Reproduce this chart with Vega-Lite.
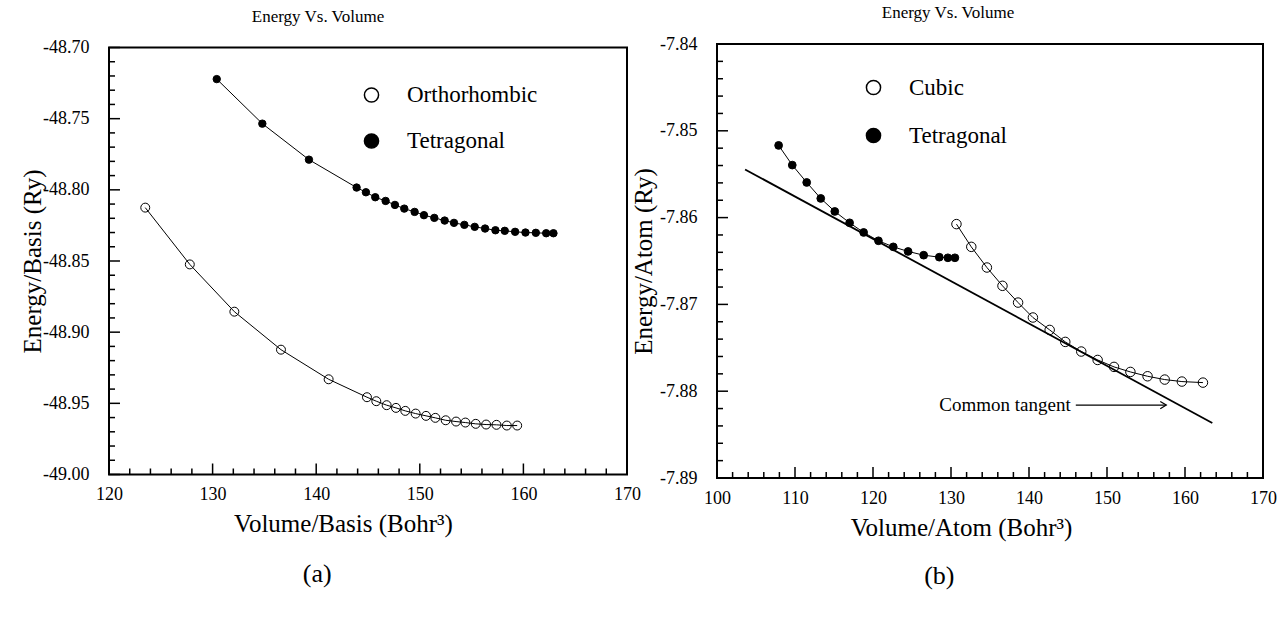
{
  "$schema": "https://vega.github.io/schema/vega-lite/v6.json",
  "background": "white",
  "padding": {"left": 19, "top": 3, "right": 10, "bottom": 10},
  "config": {
    "font": "Liberation Serif",
    "view": {"stroke": "black", "strokeWidth": 2},
    "axis": {"grid": false, "domain": false, "ticks": false, "tickSize": 0, "labelColor": "black", "titleColor": "black", "labelFont": "Liberation Serif", "titleFont": "Liberation Serif", "labelFontSize": 18, "titleFontSize": 25, "titleFontWeight": "normal", "labelOverlap": false, "labelFlush": false},
    "legend": {"labelFont": "Liberation Serif", "labelColor": "black"},
    "title": {"font": "Liberation Serif", "fontWeight": "normal", "color": "black"},
    "text": {"font": "Liberation Serif"}
  },
  "datasets": {
    "left": [
      {"V": 123.5, "E": -48.8125, "phase": "Orthorhombic"},
      {"V": 127.8, "E": -48.8524, "phase": "Orthorhombic"},
      {"V": 132.1, "E": -48.8856, "phase": "Orthorhombic"},
      {"V": 136.6, "E": -48.9123, "phase": "Orthorhombic"},
      {"V": 141.2, "E": -48.9331, "phase": "Orthorhombic"},
      {"V": 144.9, "E": -48.9457, "phase": "Orthorhombic"},
      {"V": 145.8, "E": -48.9485, "phase": "Orthorhombic"},
      {"V": 146.8, "E": -48.9513, "phase": "Orthorhombic"},
      {"V": 147.7, "E": -48.9532, "phase": "Orthorhombic"},
      {"V": 148.6, "E": -48.9553, "phase": "Orthorhombic"},
      {"V": 149.6, "E": -48.9572, "phase": "Orthorhombic"},
      {"V": 150.6, "E": -48.9588, "phase": "Orthorhombic"},
      {"V": 151.5, "E": -48.9602, "phase": "Orthorhombic"},
      {"V": 152.5, "E": -48.9619, "phase": "Orthorhombic"},
      {"V": 153.5, "E": -48.9628, "phase": "Orthorhombic"},
      {"V": 154.4, "E": -48.9635, "phase": "Orthorhombic"},
      {"V": 155.4, "E": -48.9644, "phase": "Orthorhombic"},
      {"V": 156.4, "E": -48.9649, "phase": "Orthorhombic"},
      {"V": 157.4, "E": -48.9651, "phase": "Orthorhombic"},
      {"V": 158.4, "E": -48.9656, "phase": "Orthorhombic"},
      {"V": 159.4, "E": -48.9656, "phase": "Orthorhombic"},
      {"V": 130.4, "E": -48.7222, "phase": "Tetragonal"},
      {"V": 134.8, "E": -48.7535, "phase": "Tetragonal"},
      {"V": 139.3, "E": -48.7788, "phase": "Tetragonal"},
      {"V": 143.9, "E": -48.7984, "phase": "Tetragonal"},
      {"V": 144.8, "E": -48.8017, "phase": "Tetragonal"},
      {"V": 145.7, "E": -48.8052, "phase": "Tetragonal"},
      {"V": 146.7, "E": -48.8078, "phase": "Tetragonal"},
      {"V": 147.6, "E": -48.8106, "phase": "Tetragonal"},
      {"V": 148.5, "E": -48.8132, "phase": "Tetragonal"},
      {"V": 149.5, "E": -48.8155, "phase": "Tetragonal"},
      {"V": 150.4, "E": -48.8178, "phase": "Tetragonal"},
      {"V": 151.4, "E": -48.8197, "phase": "Tetragonal"},
      {"V": 152.4, "E": -48.8216, "phase": "Tetragonal"},
      {"V": 153.3, "E": -48.8232, "phase": "Tetragonal"},
      {"V": 154.3, "E": -48.8246, "phase": "Tetragonal"},
      {"V": 155.3, "E": -48.826, "phase": "Tetragonal"},
      {"V": 156.3, "E": -48.8272, "phase": "Tetragonal"},
      {"V": 157.3, "E": -48.8284, "phase": "Tetragonal"},
      {"V": 158.2, "E": -48.8288, "phase": "Tetragonal"},
      {"V": 159.2, "E": -48.8295, "phase": "Tetragonal"},
      {"V": 160.2, "E": -48.83, "phase": "Tetragonal"},
      {"V": 161.2, "E": -48.8302, "phase": "Tetragonal"},
      {"V": 162.2, "E": -48.8305, "phase": "Tetragonal"},
      {"V": 162.9, "E": -48.8305, "phase": "Tetragonal"}
    ],
    "right": [
      {"V": 107.9, "E": -7.85168, "phase": "Tetragonal"},
      {"V": 109.65, "E": -7.85395, "phase": "Tetragonal"},
      {"V": 111.5, "E": -7.85595, "phase": "Tetragonal"},
      {"V": 113.3, "E": -7.85779, "phase": "Tetragonal"},
      {"V": 115.1, "E": -7.85929, "phase": "Tetragonal"},
      {"V": 117.0, "E": -7.8606, "phase": "Tetragonal"},
      {"V": 118.8, "E": -7.86171, "phase": "Tetragonal"},
      {"V": 120.7, "E": -7.86267, "phase": "Tetragonal"},
      {"V": 122.6, "E": -7.86337, "phase": "Tetragonal"},
      {"V": 124.5, "E": -7.8639, "phase": "Tetragonal"},
      {"V": 126.5, "E": -7.86433, "phase": "Tetragonal"},
      {"V": 128.5, "E": -7.86456, "phase": "Tetragonal"},
      {"V": 129.6, "E": -7.86463, "phase": "Tetragonal"},
      {"V": 130.5, "E": -7.86463, "phase": "Tetragonal"},
      {"V": 130.7, "E": -7.86075, "phase": "Cubic"},
      {"V": 132.6, "E": -7.86337, "phase": "Cubic"},
      {"V": 134.6, "E": -7.86575, "phase": "Cubic"},
      {"V": 136.6, "E": -7.86786, "phase": "Cubic"},
      {"V": 138.6, "E": -7.86979, "phase": "Cubic"},
      {"V": 140.5, "E": -7.87151, "phase": "Cubic"},
      {"V": 142.65, "E": -7.87294, "phase": "Cubic"},
      {"V": 144.65, "E": -7.87432, "phase": "Cubic"},
      {"V": 146.7, "E": -7.87543, "phase": "Cubic"},
      {"V": 148.8, "E": -7.8764, "phase": "Cubic"},
      {"V": 150.9, "E": -7.8772, "phase": "Cubic"},
      {"V": 153.0, "E": -7.87778, "phase": "Cubic"},
      {"V": 155.2, "E": -7.87828, "phase": "Cubic"},
      {"V": 157.4, "E": -7.87866, "phase": "Cubic"},
      {"V": 159.6, "E": -7.87889, "phase": "Cubic"},
      {"V": 162.3, "E": -7.87901, "phase": "Cubic"}
    ],
    "tangent": [
      {"V": 103.6, "E": -7.85445},
      {"V": 163.5, "E": -7.88366}
    ],
    "arrow": [
      {"V": 146.0, "V2": 157.6, "E": -7.8816}
    ],
    "arrowhead": [
      {"V": 157.6, "E": -7.8816}
    ],
    "leftNotes": [
      {"V": 140.1, "E": -49.07, "label": "(a)"}
    ],
    "rightNotes": [
      {"V": 128.5, "E": -7.9013, "label": "(b)"}
    ],
    "tangentNote": [
      {"V": 128.5, "E": -7.8816, "label": "Common tangent"}
    ],
    "lx": [
      {"t": 120, "k": "M"}, {"t": 122, "k": "m"}, {"t": 124, "k": "m"}, {"t": 126, "k": "m"}, {"t": 128, "k": "m"},
      {"t": 130, "k": "M"}, {"t": 132, "k": "m"}, {"t": 134, "k": "m"}, {"t": 136, "k": "m"}, {"t": 138, "k": "m"},
      {"t": 140, "k": "M"}, {"t": 142, "k": "m"}, {"t": 144, "k": "m"}, {"t": 146, "k": "m"}, {"t": 148, "k": "m"},
      {"t": 150, "k": "M"}, {"t": 152, "k": "m"}, {"t": 154, "k": "m"}, {"t": 156, "k": "m"}, {"t": 158, "k": "m"},
      {"t": 160, "k": "M"}, {"t": 162, "k": "m"}, {"t": 164, "k": "m"}, {"t": 166, "k": "m"}, {"t": 168, "k": "m"},
      {"t": 170, "k": "M"}
    ],
    "ly": [
      {"t": -48.70, "k": "M"}, {"t": -48.71, "k": "m"}, {"t": -48.72, "k": "m"}, {"t": -48.73, "k": "m"}, {"t": -48.74, "k": "m"},
      {"t": -48.75, "k": "M"}, {"t": -48.76, "k": "m"}, {"t": -48.77, "k": "m"}, {"t": -48.78, "k": "m"}, {"t": -48.79, "k": "m"},
      {"t": -48.80, "k": "M"}, {"t": -48.81, "k": "m"}, {"t": -48.82, "k": "m"}, {"t": -48.83, "k": "m"}, {"t": -48.84, "k": "m"},
      {"t": -48.85, "k": "M"}, {"t": -48.86, "k": "m"}, {"t": -48.87, "k": "m"}, {"t": -48.88, "k": "m"}, {"t": -48.89, "k": "m"},
      {"t": -48.90, "k": "M"}, {"t": -48.91, "k": "m"}, {"t": -48.92, "k": "m"}, {"t": -48.93, "k": "m"}, {"t": -48.94, "k": "m"},
      {"t": -48.95, "k": "M"}, {"t": -48.96, "k": "m"}, {"t": -48.97, "k": "m"}, {"t": -48.98, "k": "m"}, {"t": -48.99, "k": "m"},
      {"t": -49.00, "k": "M"}
    ],
    "rx": [
      {"t": 100, "k": "M"}, {"t": 102, "k": "m"}, {"t": 104, "k": "m"}, {"t": 106, "k": "m"}, {"t": 108, "k": "m"},
      {"t": 110, "k": "M"}, {"t": 112, "k": "m"}, {"t": 114, "k": "m"}, {"t": 116, "k": "m"}, {"t": 118, "k": "m"},
      {"t": 120, "k": "M"}, {"t": 122, "k": "m"}, {"t": 124, "k": "m"}, {"t": 126, "k": "m"}, {"t": 128, "k": "m"},
      {"t": 130, "k": "M"}, {"t": 132, "k": "m"}, {"t": 134, "k": "m"}, {"t": 136, "k": "m"}, {"t": 138, "k": "m"},
      {"t": 140, "k": "M"}, {"t": 142, "k": "m"}, {"t": 144, "k": "m"}, {"t": 146, "k": "m"}, {"t": 148, "k": "m"},
      {"t": 150, "k": "M"}, {"t": 152, "k": "m"}, {"t": 154, "k": "m"}, {"t": 156, "k": "m"}, {"t": 158, "k": "m"},
      {"t": 160, "k": "M"}, {"t": 162, "k": "m"}, {"t": 164, "k": "m"}, {"t": 166, "k": "m"}, {"t": 168, "k": "m"},
      {"t": 170, "k": "M"}
    ],
    "ry": [
      {"t": -7.840, "k": "M"}, {"t": -7.842, "k": "m"}, {"t": -7.844, "k": "m"}, {"t": -7.846, "k": "m"}, {"t": -7.848, "k": "m"},
      {"t": -7.850, "k": "M"}, {"t": -7.852, "k": "m"}, {"t": -7.854, "k": "m"}, {"t": -7.856, "k": "m"}, {"t": -7.858, "k": "m"},
      {"t": -7.860, "k": "M"}, {"t": -7.862, "k": "m"}, {"t": -7.864, "k": "m"}, {"t": -7.866, "k": "m"}, {"t": -7.868, "k": "m"},
      {"t": -7.870, "k": "M"}, {"t": -7.872, "k": "m"}, {"t": -7.874, "k": "m"}, {"t": -7.876, "k": "m"}, {"t": -7.878, "k": "m"},
      {"t": -7.880, "k": "M"}, {"t": -7.882, "k": "m"}, {"t": -7.884, "k": "m"}, {"t": -7.886, "k": "m"}, {"t": -7.888, "k": "m"},
      {"t": -7.890, "k": "M"}
    ]
  },
  "hconcat": [
    {
      "width": 518,
      "height": 427,
      "title": {"text": "Energy Vs. Volume", "font": "Liberation Serif", "fontSize": 17, "fontWeight": "normal", "color": "black", "offset": 13, "dx": -50},
      "resolve": {"axis": {"x": "independent", "y": "independent"}},
      "layer": [
        {
          "data": {"name": "left"},
          "mark": {"type": "line", "color": "black", "strokeWidth": 1},
          "encoding": {
            "x": {"field": "V", "type": "quantitative", "scale": {"domain": [120, 170], "nice": false, "zero": false},
              "axis": {"orient": "bottom", "title": "Volume/Basis (Bohr³)", "titlePadding": 8, "titleX": 234,
                "values": [120, 130, 140, 150, 160, 170], "format": "d", "labelPadding": 11}},
            "y": {"field": "E", "type": "quantitative", "scale": {"domain": [-49.0, -48.7], "nice": false, "zero": false},
              "axis": {"orient": "left", "title": "Energy/Basis (Ry)", "titlePadding": -3,
                "values": [-48.7, -48.75, -48.8, -48.85, -48.9, -48.95, -49.0], "labelPadding": 20,
                "labelExpr": "'-' + format(-datum.value, '.2f')"}},
            "detail": {"field": "phase"}
          }
        },
        {
          "data": {"name": "lx"},
          "transform": [{"filter": "datum.k === 'M'"}],
          "mark": {"type": "rule", "color": "black", "strokeWidth": 1.5},
          "encoding": {
            "x": {"field": "t", "type": "quantitative", "axis": null},
            "y": {"datum": -49.0, "type": "quantitative", "axis": null},
            "y2": {"datum": -48.99227}
          }
        },
        {
          "data": {"name": "lx"},
          "transform": [{"filter": "datum.k === 'm'"}],
          "mark": {"type": "rule", "color": "black", "strokeWidth": 1.5},
          "encoding": {
            "x": {"field": "t", "type": "quantitative", "axis": null},
            "y": {"datum": -49.0, "type": "quantitative", "axis": null},
            "y2": {"datum": -48.99578}
          }
        },
        {
          "data": {"name": "ly"},
          "transform": [{"filter": "datum.k === 'M'"}],
          "mark": {"type": "rule", "color": "black", "strokeWidth": 1.5},
          "encoding": {
            "y": {"field": "t", "type": "quantitative", "axis": null},
            "x": {"datum": 120, "type": "quantitative", "axis": null},
            "x2": {"datum": 121.06}
          }
        },
        {
          "data": {"name": "ly"},
          "transform": [{"filter": "datum.k === 'm'"}],
          "mark": {"type": "rule", "color": "black", "strokeWidth": 1.5},
          "encoding": {
            "y": {"field": "t", "type": "quantitative", "axis": null},
            "x": {"datum": 120, "type": "quantitative", "axis": null},
            "x2": {"datum": 120.58}
          }
        },
        {
          "data": {"name": "left"},
          "mark": {"type": "point", "filled": true, "stroke": "black", "strokeWidth": 1, "opacity": 1},
          "encoding": {
            "x": {"field": "V", "type": "quantitative", "axis": null},
            "y": {"field": "E", "type": "quantitative", "axis": null},
            "fill": {"field": "phase", "type": "nominal", "scale": {"domain": ["Orthorhombic", "Tetragonal"], "range": ["transparent", "black"]},
              "legend": {"orient": "none", "legendX": 251, "legendY": 36, "title": null, "labelFont": "Liberation Serif", "labelFontSize": 23, "labelColor": "black", "symbolType": "circle", "symbolSize": 200, "symbolStrokeColor": "black", "symbolStrokeWidth": 1.5, "labelOffset": 24, "rowPadding": 22, "padding": 0, "labelLimit": 400}},
            "size": {"condition": {"test": "datum.phase === 'Tetragonal'", "value": 55}, "value": 80}
          }
        },
        {
          "data": {"name": "leftNotes"},
          "mark": {"type": "text", "font": "Liberation Serif", "fontSize": 26, "color": "black", "align": "center", "baseline": "middle"},
          "encoding": {
            "x": {"field": "V", "type": "quantitative", "axis": null},
            "y": {"field": "E", "type": "quantitative", "axis": null},
            "text": {"field": "label"}
          }
        }
      ]
    },
    {
      "width": 546,
      "height": 434,
      "title": {"text": "Energy Vs. Volume", "font": "Liberation Serif", "fontSize": 17, "fontWeight": "normal", "color": "black", "offset": 13, "dx": -42},
      "resolve": {"axis": {"x": "independent", "y": "independent"}},
      "layer": [
        {
          "data": {"name": "tangent"},
          "mark": {"type": "line", "color": "black", "strokeWidth": 1.8},
          "encoding": {
            "x": {"field": "V", "type": "quantitative", "scale": {"domain": [100, 170], "nice": false, "zero": false},
              "axis": {"orient": "bottom", "title": "Volume/Atom (Bohr³)", "titlePadding": 8, "titleX": 244,
                "values": [100, 110, 120, 130, 140, 150, 160, 170], "format": "d", "labelPadding": 11}},
            "y": {"field": "E", "type": "quantitative", "scale": {"domain": [-7.89, -7.84], "nice": false, "zero": false},
              "axis": {"orient": "left", "title": "Energy/Atom (Ry)", "titlePadding": 3,
                "values": [-7.84, -7.85, -7.86, -7.87, -7.88, -7.89], "labelPadding": 20,
                "labelExpr": "'-' + format(-datum.value, '.2f')"}}
          }
        },
        {
          "data": {"name": "rx"},
          "transform": [{"filter": "datum.k === 'M'"}],
          "mark": {"type": "rule", "color": "black", "strokeWidth": 1.5},
          "encoding": {
            "x": {"field": "t", "type": "quantitative", "axis": null},
            "y": {"datum": -7.89, "type": "quantitative", "axis": null},
            "y2": {"datum": -7.88873}
          }
        },
        {
          "data": {"name": "rx"},
          "transform": [{"filter": "datum.k === 'm'"}],
          "mark": {"type": "rule", "color": "black", "strokeWidth": 1.5},
          "encoding": {
            "x": {"field": "t", "type": "quantitative", "axis": null},
            "y": {"datum": -7.89, "type": "quantitative", "axis": null},
            "y2": {"datum": -7.88931}
          }
        },
        {
          "data": {"name": "ry"},
          "transform": [{"filter": "datum.k === 'M'"}],
          "mark": {"type": "rule", "color": "black", "strokeWidth": 1.5},
          "encoding": {
            "y": {"field": "t", "type": "quantitative", "axis": null},
            "x": {"datum": 100, "type": "quantitative", "axis": null},
            "x2": {"datum": 101.41}
          }
        },
        {
          "data": {"name": "ry"},
          "transform": [{"filter": "datum.k === 'm'"}],
          "mark": {"type": "rule", "color": "black", "strokeWidth": 1.5},
          "encoding": {
            "y": {"field": "t", "type": "quantitative", "axis": null},
            "x": {"datum": 100, "type": "quantitative", "axis": null},
            "x2": {"datum": 100.77}
          }
        },
        {
          "data": {"name": "right"},
          "mark": {"type": "line", "color": "black", "strokeWidth": 1},
          "encoding": {
            "x": {"field": "V", "type": "quantitative", "axis": null},
            "y": {"field": "E", "type": "quantitative", "axis": null},
            "detail": {"field": "phase"}
          }
        },
        {
          "data": {"name": "right"},
          "mark": {"type": "point", "filled": true, "stroke": "black", "strokeWidth": 1, "opacity": 1},
          "encoding": {
            "x": {"field": "V", "type": "quantitative", "axis": null},
            "y": {"field": "E", "type": "quantitative", "axis": null},
            "fill": {"field": "phase", "type": "nominal", "scale": {"domain": ["Cubic", "Tetragonal"], "range": ["transparent", "black"]},
              "legend": {"orient": "none", "legendX": 145, "legendY": 32, "title": null, "labelFont": "Liberation Serif", "labelFontSize": 23, "labelColor": "black", "symbolType": "circle", "symbolSize": 200, "symbolStrokeColor": "black", "symbolStrokeWidth": 1.5, "labelOffset": 24, "rowPadding": 24, "padding": 0, "labelLimit": 400}},
            "size": {"condition": {"test": "datum.phase === 'Tetragonal'", "value": 60}, "value": 90}
          }
        },
        {
          "data": {"name": "arrow"},
          "mark": {"type": "rule", "color": "black", "strokeWidth": 1.2},
          "encoding": {
            "x": {"field": "V", "type": "quantitative", "axis": null},
            "x2": {"field": "V2"},
            "y": {"field": "E", "type": "quantitative", "axis": null}
          }
        },
        {
          "data": {"name": "arrowhead"},
          "mark": {"type": "point", "shape": "M-1,-0.6L0,0L-1,0.6", "filled": false, "stroke": "black", "strokeWidth": 1.2, "size": 144, "opacity": 1},
          "encoding": {
            "x": {"field": "V", "type": "quantitative", "axis": null},
            "y": {"field": "E", "type": "quantitative", "axis": null}
          }
        },
        {
          "data": {"name": "tangentNote"},
          "mark": {"type": "text", "font": "Liberation Serif", "fontSize": 19, "color": "black", "align": "left", "baseline": "middle"},
          "encoding": {
            "x": {"field": "V", "type": "quantitative", "axis": null},
            "y": {"field": "E", "type": "quantitative", "axis": null},
            "text": {"field": "label"}
          }
        },
        {
          "data": {"name": "rightNotes"},
          "mark": {"type": "text", "font": "Liberation Serif", "fontSize": 26, "color": "black", "align": "center", "baseline": "middle"},
          "encoding": {
            "x": {"field": "V", "type": "quantitative", "axis": null},
            "y": {"field": "E", "type": "quantitative", "axis": null},
            "text": {"field": "label"}
          }
        }
      ]
    }
  ],
  "spacing": 90,
  "bounds": "flush",
  "center": true,
  "resolve": {"scale": {"fill": "independent", "x": "independent", "y": "independent"}, "legend": {"fill": "independent"}}
}
